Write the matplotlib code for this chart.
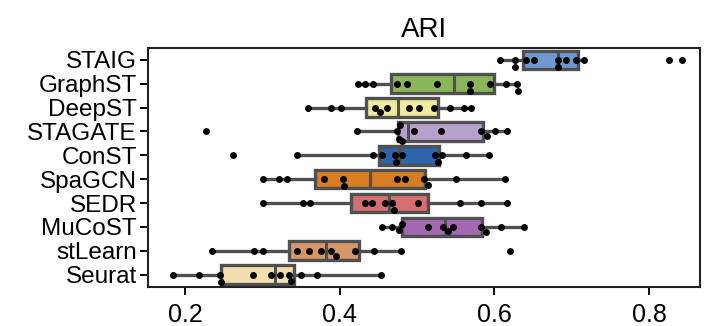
import numpy as np
import pandas as pd
import matplotlib
matplotlib.use("Agg")
import matplotlib.pyplot as plt
import seaborn as sns

methods = ["STAIG", "GraphST", "DeepST", "STAGATE", "ConST",
           "SpaGCN", "SEDR", "MuCoST", "stLearn", "Seurat"]

staig   = [0.607, 0.626, 0.626, 0.641, 0.651, 0.682, 0.682, 0.692, 0.706, 0.716, 0.826, 0.843]
graphst = [0.423, 0.433, 0.443, 0.474, 0.487, 0.526, 0.569, 0.569, 0.594, 0.615, 0.629, 0.631]
deepst  = [0.359, 0.389, 0.402, 0.445, 0.452, 0.461, 0.489, 0.502, 0.522, 0.542, 0.561, 0.570]
stagate = [0.227, 0.422, 0.474, 0.476, 0.478, 0.480, 0.496, 0.531, 0.583, 0.590, 0.601, 0.616]
const   = [0.262, 0.344, 0.443, 0.454, 0.471, 0.473, 0.481, 0.523, 0.527, 0.532, 0.563, 0.593]
spagcn  = [0.300, 0.321, 0.332, 0.380, 0.404, 0.405, 0.474, 0.484, 0.509, 0.514, 0.550, 0.614]
sedr    = [0.300, 0.352, 0.361, 0.432, 0.441, 0.459, 0.468, 0.470, 0.501, 0.555, 0.582, 0.616]
mucost  = [0.455, 0.468, 0.476, 0.481, 0.514, 0.533, 0.540, 0.547, 0.583, 0.589, 0.608, 0.638]
stlearn = [0.234, 0.289, 0.301, 0.345, 0.360, 0.375, 0.389, 0.395, 0.419, 0.444, 0.479, 0.620]
seurat  = [0.184, 0.218, 0.245, 0.246, 0.288, 0.311, 0.322, 0.334, 0.337, 0.350, 0.370, 0.453]

values = [staig, graphst, deepst, stagate, const, spagcn, sedr, mucost, stlearn, seurat]

colors = ["#7099D0", "#8AB55A", "#F0EB9E", "#B7A0CC", "#2E63AD",
          "#D77E23", "#D76F70", "#A468B2", "#D5976A", "#F4DDAE"]

plt.rcParams["font.family"] = ["Liberation Sans", "DejaVu Sans"]

fig = plt.figure(figsize=(7.08, 3.26), dpi=100)
ax = fig.add_axes([148 / 708, 1 - 286.5 / 326, (700 - 148) / 708, (286.5 - 48) / 326])

edge = "#505050"
positions = list(range(len(methods)))
bp = ax.boxplot(values, positions=positions, orientation="horizontal", widths=0.78,
                patch_artist=True, showfliers=False, showcaps=False, whis=1.5,
                boxprops=dict(edgecolor=edge, linewidth=2.4),
                whiskerprops=dict(color=edge, linewidth=2.4),
                medianprops=dict(color=edge, linewidth=2.2),
                zorder=2)
for patch, c in zip(bp["boxes"], colors):
    patch.set_facecolor(c)

df = pd.DataFrame({
    "method": np.repeat(methods, [len(v) for v in values]),
    "ARI": np.concatenate(values),
})
sns.swarmplot(data=df, x="ARI", y="method", order=methods, color="black",
              size=5.0, ax=ax, zorder=3)

ax.set_xlim(0.1517, 0.866)
ax.set_ylim(len(methods) - 0.5, -0.5)
ax.set_xticks([0.2, 0.4, 0.6, 0.8])
ax.set_xticklabels(["0.2", "0.4", "0.6", "0.8"])
ax.set_yticks(positions)
ax.set_yticklabels(methods)
ax.set_xlabel("")
ax.set_ylabel("")
ax.tick_params(axis="x", labelsize=18, length=6, width=1.4, pad=6)
ax.tick_params(axis="y", labelsize=17.5, length=6, width=1.4, pad=2)
for s in ax.spines.values():
    s.set_linewidth(1.5)
    s.set_color("#222222")
ax.set_title("ARI", fontsize=20, pad=8)

fig.savefig("out.png", dpi=100)
